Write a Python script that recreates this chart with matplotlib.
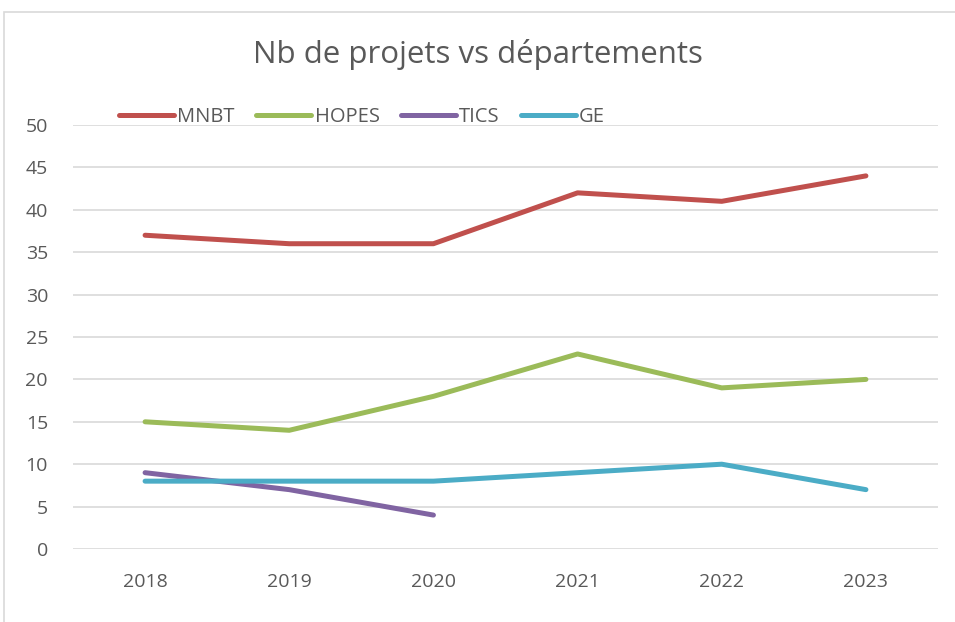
import matplotlib
matplotlib.use("Agg")
import matplotlib.pyplot as plt
from matplotlib.patches import Rectangle

years = ["2018", "2019", "2020", "2021", "2022", "2023"]
mnbt = [37, 36, 36, 42, 41, 44]
hopes = [15, 14, 18, 23, 19, 20]
tics = [9, 7, 4]
ge = [8, 8, 8, 9, 10, 7]

series = [
    ("MNBT", mnbt, "#C0504D"),
    ("HOPES", hopes, "#9BBB59"),
    ("TICS", tics, "#8064A2"),
    ("GE", ge, "#4BACC6"),
]

plt.rcParams["font.family"] = ["Open Sans", "DejaVu Sans"]
text_color = "#595959"

fig = plt.figure(figsize=(9.55, 6.22), dpi=100)
fig.patch.set_facecolor("white")

# chart outline (left and top edges visible)
fig.patches.append(Rectangle((4 / 955, -0.1), 1.2, 1 - 12 / 622 + 0.1,
                             transform=fig.transFigure, fill=False,
                             edgecolor="#D9D9D9", linewidth=1.2))

ax = fig.add_axes([73 / 955, 1 - 549 / 622, (938 - 73) / 955, (549 - 125) / 622])
x = list(range(len(years)))
for name, vals, color in series:
    ax.plot(x[:len(vals)], vals, color=color, linewidth=3.6,
            solid_capstyle="round", solid_joinstyle="round", label=name)

ax.set_xlim(-0.5, len(years) - 0.5)
ax.set_ylim(0, 50)
ax.set_yticks(range(0, 51, 5))
ax.set_xticks(x)
ax.set_xticklabels(years)
ax.grid(axis="y", color="#D9D9D9", linewidth=1.2)
ax.set_axisbelow(True)
for s in ax.spines.values():
    s.set_visible(False)
ax.tick_params(length=0, labelsize=14, labelcolor=text_color)
ax.tick_params(axis="y", pad=18)
ax.tick_params(axis="x", pad=17)

fig.text(0.5, 1 - 55 / 622, "Nb de projets vs départements", ha="center",
         va="center", fontsize=22.5, color=text_color)

fig.legend(loc="center left", bbox_to_anchor=(111 / 955, 1 - 117 / 622), ncol=4,
           frameon=False, fontsize=14.5, labelcolor=text_color, handlelength=2.75,
           handletextpad=0.15, columnspacing=1.05, borderaxespad=0)

fig.savefig("out.png", dpi=100, facecolor="white")
